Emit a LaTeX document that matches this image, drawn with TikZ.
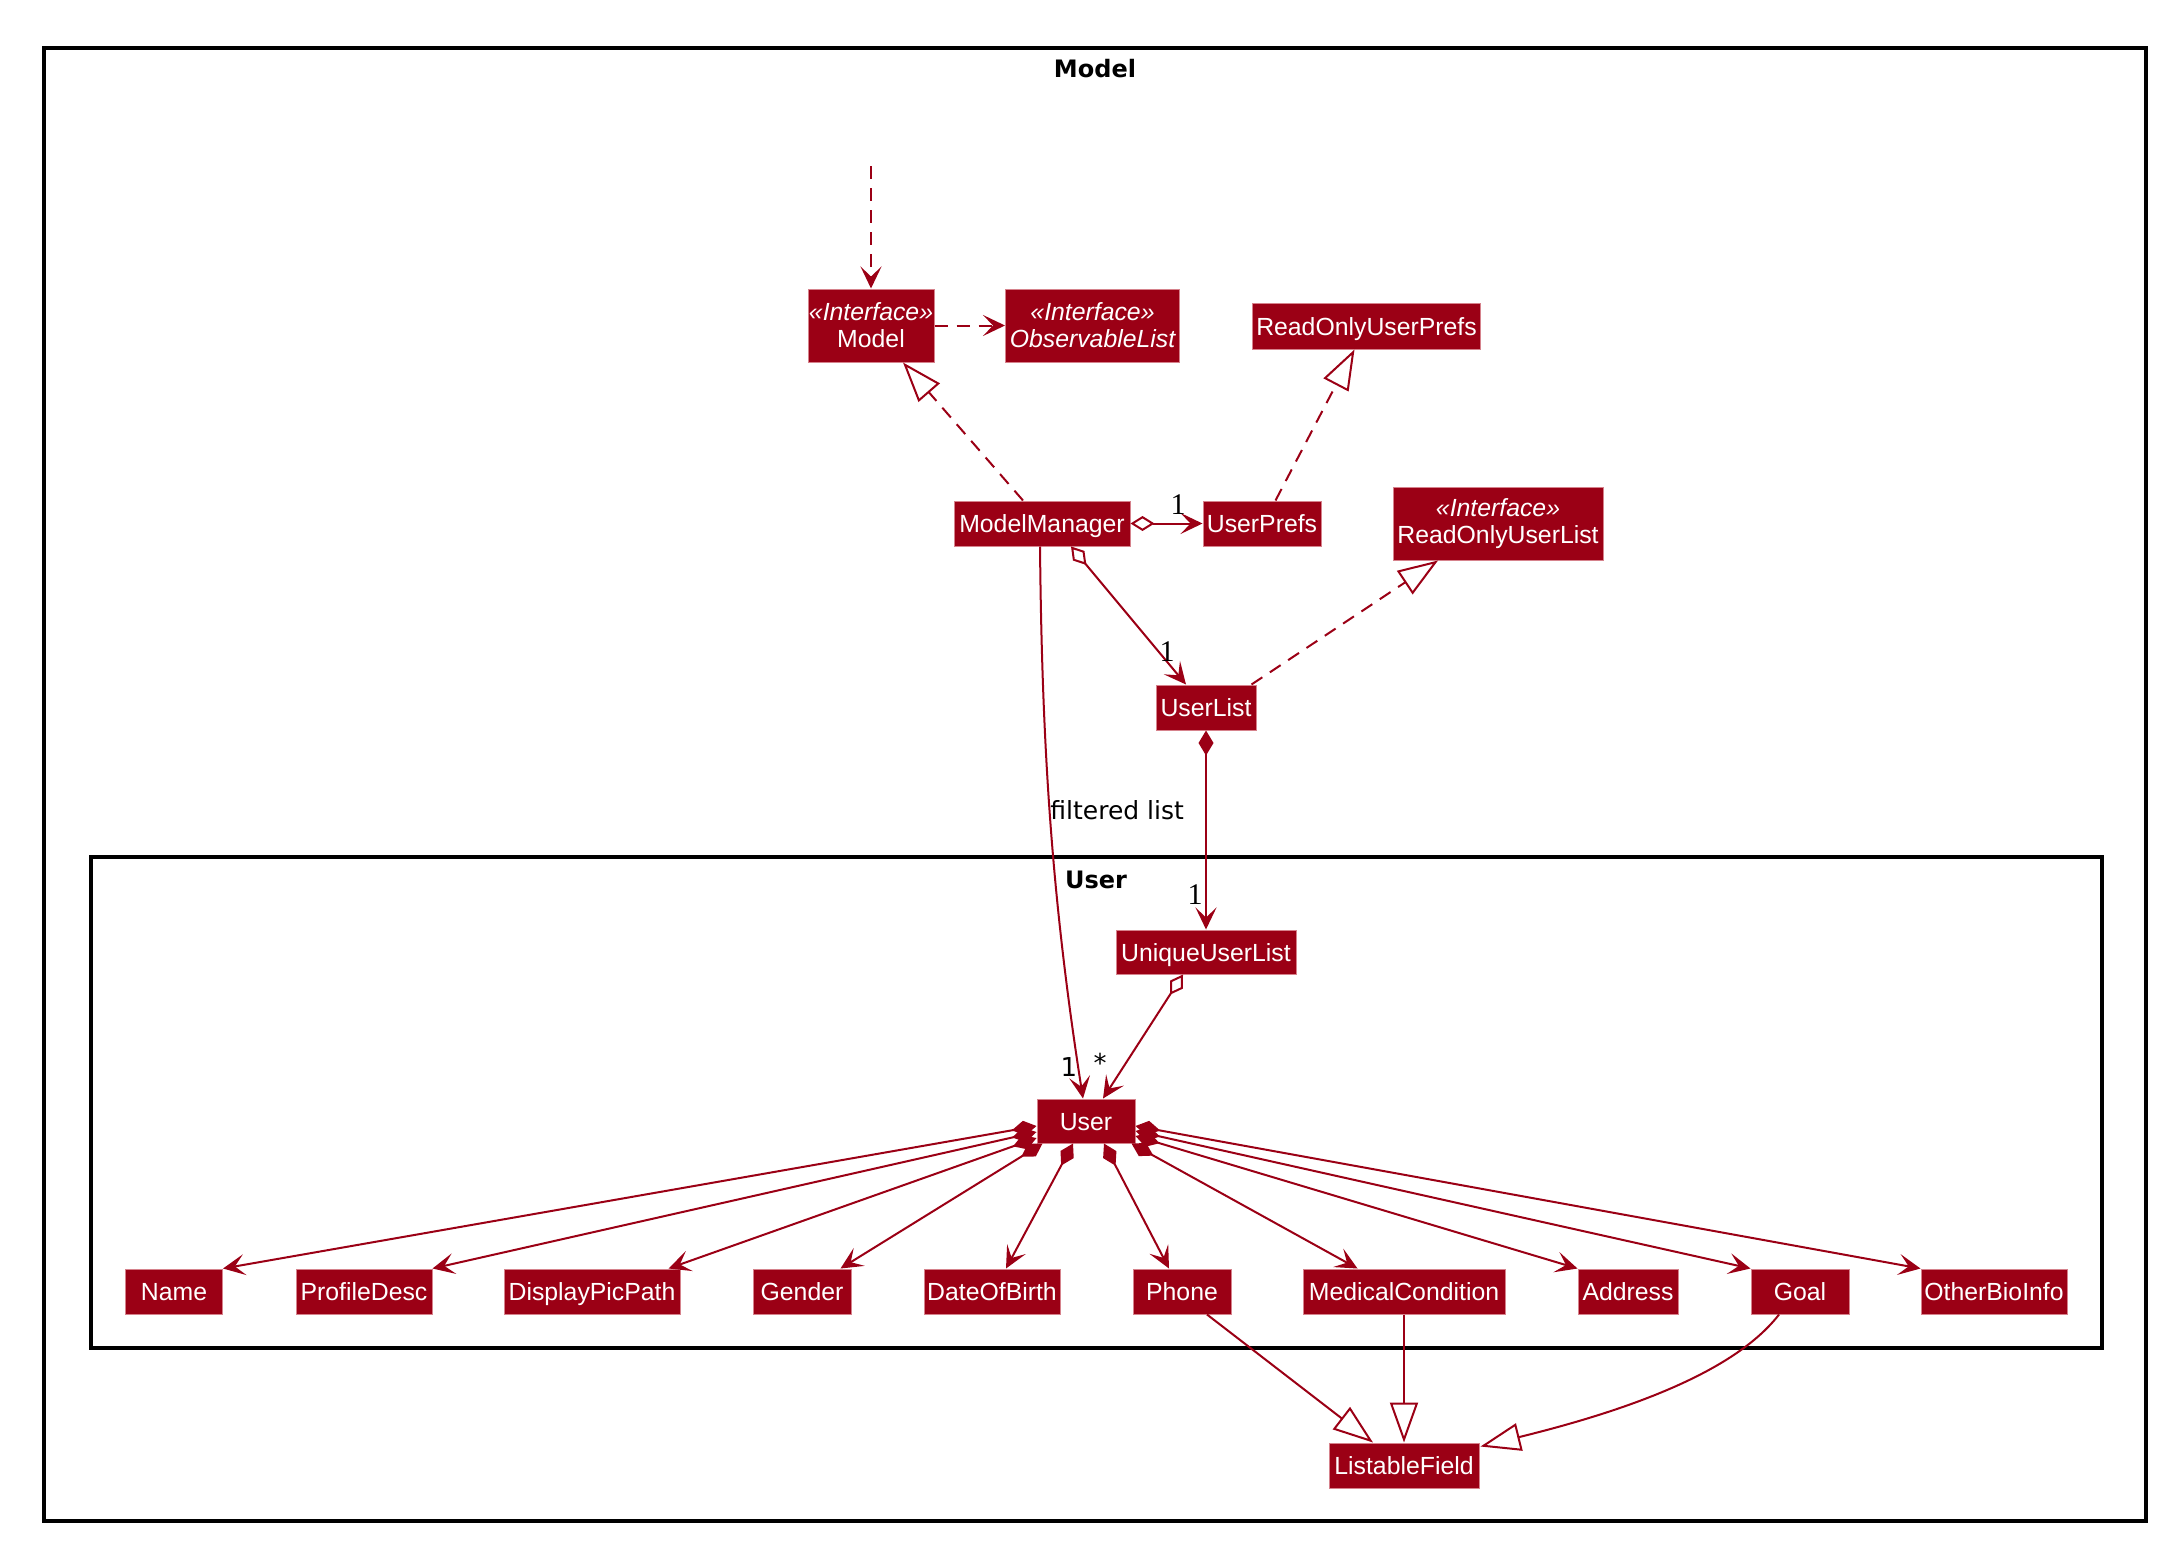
\documentclass[tikz,border=0pt]{standalone}
\usepackage{fontspec}
\usetikzlibrary{arrows.meta,calc}
\newfontfamily\clsfont{Liberation Sans}
\newfontfamily\lblfont{DejaVu Sans}
\newfontfamily\mulfont{Liberation Serif}
\definecolor{umlred}{RGB}{155,0,21}
\definecolor{umlborder}{RGB}{214,130,140}
\tikzset{
  cls/.style={fill=umlred, draw=umlborder, line width=0.5pt, text=white,
    font=\clsfont\fontsize{12.4}{13.5}\selectfont, inner sep=0pt, align=center},
  one/.style={text height=9pt, text depth=0pt},
  pkg/.style={draw=black, line width=1.6pt},
  pkgtitle/.style={font=\lblfont\bfseries\fontsize{12}{14}\selectfont, text=black},
  conn/.style={draw=umlred, line width=1pt},
  dep/.style={conn, dash pattern=on 6.5pt off 4.5pt},
  tip/.style={-{Stealth[length=11pt,width=10.5pt,inset=5pt,fill=umlred]}},
  realize/.style={-{Triangle[open,length=20pt,width=14pt,fill=white]}},
  odia/.style={{Diamond[open,length=12pt,width=7.5pt,fill=white]}-{Stealth[length=11pt,width=10.5pt,inset=5pt]}},
  fdia/.style={{Diamond[length=12.5pt,width=7.5pt]}-{Stealth[length=11pt,width=10.5pt,inset=5pt]}},
  mult/.style={font=\mulfont\fontsize{15}{16}\selectfont, text=black, inner sep=0pt},
  multsans/.style={font=\lblfont\fontsize{13}{14}\selectfont, text=black, inner sep=0pt},
  lbl/.style={font=\lblfont\fontsize{12.5}{14}\selectfont, text=black, inner sep=0pt}
}
\begin{document}
\begin{tikzpicture}[x=0.5pt,y=-0.5pt]
\useasboundingbox (0,0) rectangle (2168,1542);
% packages
\draw[pkg] (44,48) rectangle (2146,1521);
\node[pkgtitle] (modelpkg) at (1095,69) {Model};
\draw[pkg] (91,857) rectangle (2102,1348);
\node[pkgtitle] (userpkg) at (1096,880) {User};

% classes
\node[cls, minimum width=126*0.5pt, minimum height=73*0.5pt] (model) at (871,325.5) {\itshape «Interface»\\Model};
\node[cls, minimum width=174*0.5pt, minimum height=73*0.5pt] (obs) at (1092.5,325.5) {\itshape «Interface»\\\itshape ObservableList};
\node[cls, one, minimum width=228*0.5pt, minimum height=46*0.5pt] (roup) at (1366.5,326) {ReadOnlyUserPrefs};
\node[cls, one, minimum width=176*0.5pt, minimum height=45*0.5pt] (mm) at (1042,523.5) {ModelManager};
\node[cls, one, minimum width=118*0.5pt, minimum height=45*0.5pt] (up) at (1262,523.5) {UserPrefs};
\node[cls, minimum width=210*0.5pt, minimum height=73*0.5pt] (roul) at (1498,523.5) {\itshape «Interface»\\ReadOnlyUserList};
\node[cls, one, minimum width=100*0.5pt, minimum height=45*0.5pt] (ul) at (1206,707.5) {UserList};
\node[cls, one, minimum width=180*0.5pt, minimum height=44*0.5pt] (uul) at (1206,952) {UniqueUserList};
\node[cls, one, minimum width=98*0.5pt, minimum height=44*0.5pt] (user) at (1086,1121) {User};
\node[cls, one, minimum width=97*0.5pt, minimum height=45*0.5pt] (name) at (174,1291.5) {Name};
\node[cls, one, minimum width=136*0.5pt, minimum height=45*0.5pt] (pd) at (364,1291.5) {ProfileDesc};
\node[cls, one, minimum width=176*0.5pt, minimum height=45*0.5pt] (dpp) at (592,1291.5) {DisplayPicPath};
\node[cls, one, minimum width=98*0.5pt, minimum height=45*0.5pt] (gender) at (802,1291.5) {Gender};
\node[cls, one, minimum width=136*0.5pt, minimum height=45*0.5pt] (dob) at (992,1291.5) {DateOfBirth};
\node[cls, one, minimum width=98*0.5pt, minimum height=45*0.5pt] (phone) at (1182,1291.5) {Phone};
\node[cls, one, minimum width=202*0.5pt, minimum height=45*0.5pt] (mc) at (1404,1291.5) {MedicalCondition};
\node[cls, one, minimum width=100*0.5pt, minimum height=45*0.5pt] (addr) at (1628,1291.5) {Address};
\node[cls, one, minimum width=98*0.5pt, minimum height=45*0.5pt] (goal) at (1800,1291.5) {Goal};
\node[cls, one, minimum width=146*0.5pt, minimum height=45*0.5pt] (obi) at (1994,1291.5) {OtherBioInfo};
\node[cls, one, minimum width=150*0.5pt, minimum height=45*0.5pt] (lf) at (1404,1465.5) {ListableField};

% top dependency
\coordinate (topsrc) at (871,166);
\draw[dep, tip] (topsrc) -- (model.north);
\draw[dep, tip] (model.east) -- (obs.west);
% realizations
\draw[dep, realize] ($(mm.north)+(-19,0)$) -- ($(model.south)+(32,0)$);
\draw[dep, realize] ($(up.north)+(13.5,0)$) -- ($(roup.south)+(-12,0)$);
\draw[dep, realize] ($(ul.north east)+(-5,0)$) -- ($(roul.south)+(-60,0)$);
% aggregations
\draw[conn, odia] (mm.east) -- (up.west);
\node[mult] (m1) at (1178,505) {1};
\draw[conn, odia] ($(mm.south)+(29,0)$) -- ($(ul.north)+(-20,0)$);
\node[mult] (m2) at (1167,652) {1};
\draw[conn, fdia] (ul.south) -- (uul.north);
\node[mult] (m3) at (1195,895) {1};
\draw[conn, tip] ($(mm.south)+(-2,0)$) .. controls (1042,750) and (1052,900) .. ($(user.north)+(-3,0)$);
\node[lbl, anchor=west] (fl) at (1050,810) {filtered list};
\node[multsans] (m4) at (1069,1067) {1};
\draw[conn, odia] ($(uul.south)+(-23,0)$) -- ($(user.north)+(17,0)$);
\node[multsans] (m5) at (1100,1063) {*};

% compositions
\draw[conn, fdia] ($(user.west)+(0,5)$) -- (name.north east);
\draw[conn, fdia] ($(user.west)+(0,11)$) -- (pd.north east);
\draw[conn, fdia] ($(user.west)+(0,17)$) -- ($(dpp.north east)+(-12,0)$);
\draw[conn, fdia] ($(user.south west)+(6,0)$) -- ($(gender.north east)+(-11,0)$);
\draw[conn, fdia] ($(user.south)+(-13,0)$) -- ($(dob.north)+(14,0)$);
\draw[conn, fdia] ($(user.south)+(18,0)$) -- ($(phone.north)+(-13,0)$);
\draw[conn, fdia] ($(user.south east)+(-4,0)$) -- ($(mc.north west)+(55,0)$);
\draw[conn, fdia] ($(user.east)+(0,15)$) -- (addr.north west);
\draw[conn, fdia] ($(user.east)+(0,10)$) -- (goal.north west);
\draw[conn, fdia] ($(user.east)+(0,5)$) -- (obi.north west);

% generalizations
\draw[conn, realize] ($(phone.south)+(25,0)$) -- ($(lf.north)+(-31,0)$);
\draw[conn, realize] (mc.south) -- (lf.north);
\draw[conn, realize] ($(goal.south)+(-21,0)$) .. controls (1740,1365) and (1650,1405) .. ($(lf.north east)+(1,4)$);
\end{tikzpicture}
\end{document}
